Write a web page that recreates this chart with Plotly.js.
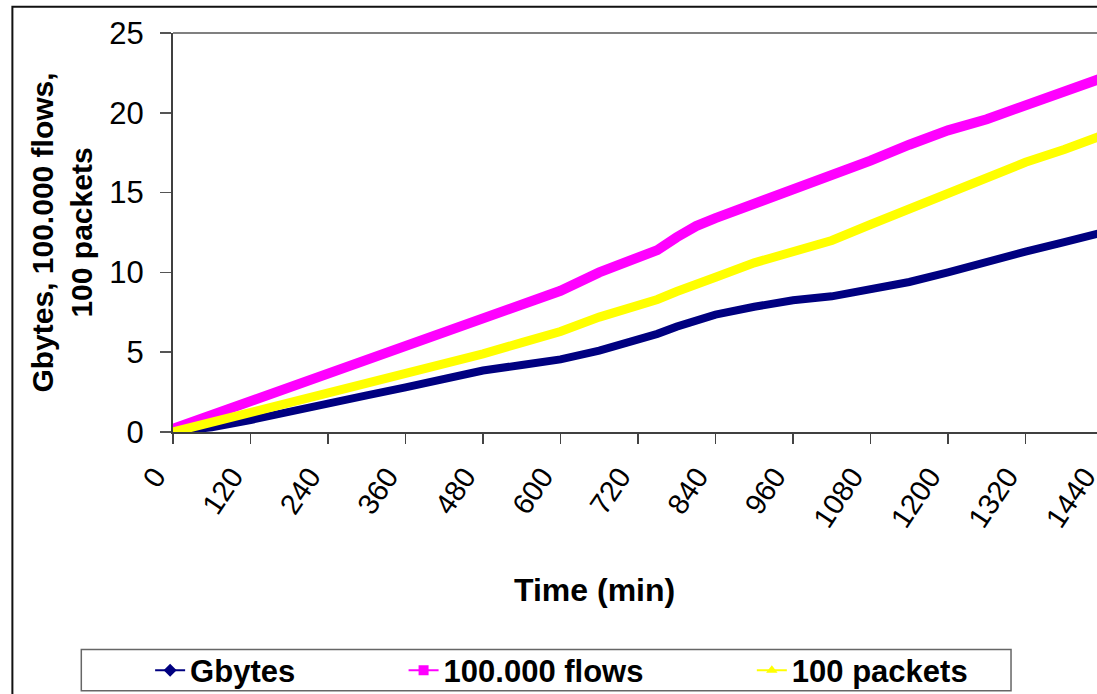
<!DOCTYPE html>
<html>
<head>
<meta charset="utf-8">
<script src="https://cdn.plot.ly/plotly-3.0.1.min.js"></script>
<style>
html,body{margin:0;padding:0;overflow:hidden;background:#fff;width:1097px;height:694px;}
#wrap{width:1097px;height:694px;overflow:hidden;position:relative;}
#chart{width:1120px;height:694px;position:absolute;left:0;top:0;}
</style>
</head>
<body>
<div id="wrap"><div id="chart"></div></div>
<script>
// Time in minutes
const timeMin = [0,60,120,180,240,300,360,420,480,540,600,660,720,750,780,810,840,900,960,1020,1080,1140,1200,1260,1320,1380,1440];
// Series values
const gbytes  = [0.0,0.3,0.75,1.3,1.8,2.3,2.8,3.3,3.85,4.2,4.55,5.1,5.75,6.15,6.6,7.0,7.35,7.85,8.25,8.5,8.9,9.4,10.0,10.7,11.3,11.9,12.5];
const flows   = [0.2,1.05,1.95,2.75,3.6,4.45,5.3,6.2,7.1,7.95,8.85,10.0,10.9,11.4,12.2,12.9,13.4,14.3,15.1,16.0,17.0,18.0,18.9,19.6,20.5,21.3,22.2];
const packets = [0.0,0.6,1.25,1.9,2.5,3.1,3.65,4.3,4.9,5.6,6.3,7.2,7.85,8.3,8.8,9.3,9.7,10.6,11.35,12.0,13.0,14.0,15.0,16.0,16.9,17.7,18.6];
const seriesNames = ['Gbytes','100.000 flows','100 packets'];
const xTickVals = [0,120,240,360,480,600,720,840,960,1080,1200,1320,1440];
const xTickText = ['0','120','240','360','480','600','720','840','960','1080','1200','1320','1440'];
const yTickVals = [0,5,10,15,20,25];

const FONT = 'Liberation Sans, Arial, Helvetica, sans-serif';
const NB = '\u00a0'.repeat(12);

const colors = ['#000080','#FF00FF','#FFFF00'];
const symbols = ['diamond','square','triangle-up'];
const data = [gbytes, flows, packets];
const widths = [8,10,9];

const traces = [];
data.forEach((ys,i)=>{
  traces.push({
    x: timeMin, y: ys, type:'scatter', mode:'lines',
    line:{color:colors[i], width:widths[i]},
    showlegend:false, hoverinfo:'skip', cliponaxis:false
  });
});
seriesNames.forEach((nm,i)=>{
  traces.push({
    x:[null], y:[null], type:'scatter', mode:'lines+markers',
    name: nm + (i<2 ? NB : ''),
    line:{color:colors[i], width:2},
    marker:{color:colors[i], symbol:symbols[i], size:10}
  });
});

const layout = {
  width:1120, height:694,
  margin:{l:173, r:17, t:33, b:262, pad:0, autoexpand:false},
  paper_bgcolor:'#fff', plot_bgcolor:'#fff',
  font:{family:FONT, color:'#000'},
  xaxis:{
    range:[0,1440], tickmode:'array', tickvals:xTickVals, ticktext:xTickText,
    tickangle:-56, tickfont:{size:29, family:FONT, color:'#000'},
    ticks:'outside', ticklen:10, tickwidth:1.5, tickcolor:'#444',
    showline:true, linecolor:'#404040', linewidth:2,
    showgrid:false, zeroline:false, automargin:false,
    ticklabelstandoff:4, ticklabelshift:-18, ticklabeloverflow:'allow'
  },
  yaxis:{
    range:[0,25], tickmode:'array', tickvals:yTickVals,
    tickfont:{size:31, family:FONT, color:'#000'},
    ticks:'outside', ticklen:11, tickwidth:1.5, tickcolor:'#555',
    showline:true, linecolor:'#404040', linewidth:2,
    showgrid:false, zeroline:false, automargin:false, ticklabelstandoff:10,
    title:{text:'Gbytes, 100.000 flows,<br>100 packets', font:{size:30, family:FONT, weight:'bold', color:'#000'}, standoff:8}
  },
  showlegend:true,
  legend:{
    orientation:'h', x:-0.0246, xanchor:'left', y:-0.598, yanchor:'middle',
    font:{size:31, family:FONT, weight:'bold', color:'#000'},
    bgcolor:'rgba(0,0,0,0)', borderwidth:0, itemwidth:30
  },
  annotations:[{
    text:'Time (min)', xref:'paper', yref:'paper', x:0.453, y:-0.395,
    xanchor:'center', yanchor:'middle', showarrow:false,
    font:{size:32, family:FONT, weight:'bold', color:'#000'}
  }],
  shapes:[
    {type:'line', xref:'paper', yref:'paper', x0:0, x1:1.05, y0:1, y1:1, line:{color:'#808080', width:2}, layer:'below'},
    {type:'rect', xref:'paper', yref:'paper', x0:-0.0986, x1:0.9011, y0:-0.6483, y1:-0.5454, line:{color:'#666', width:1.5}},
    {type:'rect', xref:'paper', yref:'paper', x0:-0.1727, x1:1.3, y0:-1.3, y1:1.066, line:{color:'#111', width:2}}
  ]
};

Plotly.newPlot('chart', traces, layout, {staticPlot:true, displayModeBar:false});
</script>
</body>
</html>
